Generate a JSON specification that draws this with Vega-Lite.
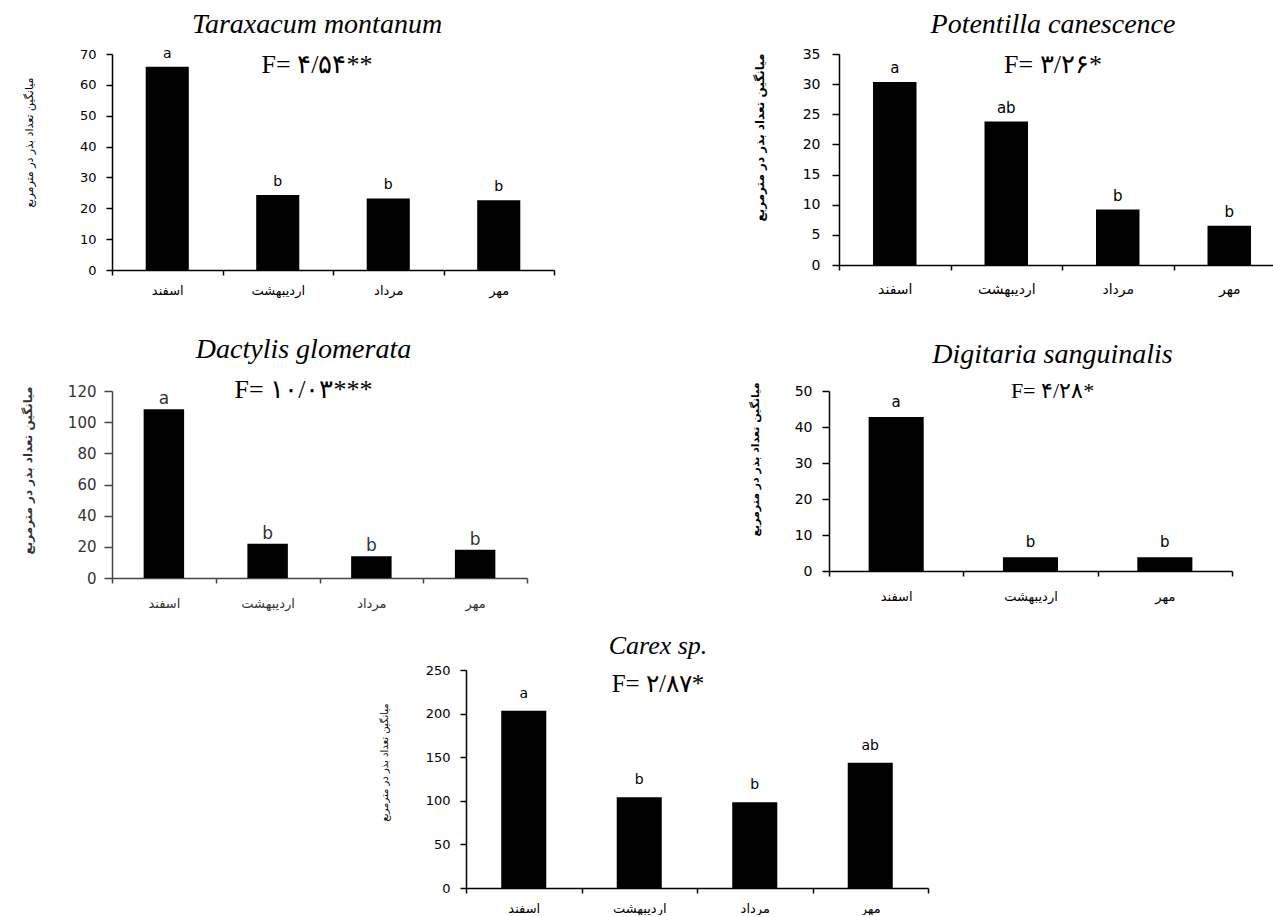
{
  "$schema": "https://vega.github.io/schema/vega-lite/v6.json",
  "background": "white",
  "padding": {"left": 21, "top": 10, "right": 0, "bottom": 0},
  "config": {
    "view": {"stroke": null},
    "axis": {"domainColor": "black", "domainWidth": 1.5, "tickColor": "black", "tickWidth": 1.5, "labelColor": "black", "titleColor": "black", "grid": false, "labelFont": "DejaVu Sans", "titleFont": "DejaVu Sans"},
    "title": {"font": "Liberation Serif", "fontSize": 28, "fontStyle": "italic", "fontWeight": "normal", "color": "black", "anchor": "middle", "frame": "group", "subtitleFont": "Liberation Serif", "subtitleFontSize": 26, "subtitleFontWeight": 200, "subtitleColor": "black", "subtitlePadding": 13}
  },
  "datasets": {
    "seed": [
      {"species": "Taraxacum montanum", "month": "اسفند", "value": 65.9, "letter": "a"},
      {"species": "Taraxacum montanum", "month": "اردیبهشت", "value": 24.3, "letter": "b"},
      {"species": "Taraxacum montanum", "month": "مرداد", "value": 23.2, "letter": "b"},
      {"species": "Taraxacum montanum", "month": "مهر", "value": 22.6, "letter": "b"},
      {"species": "Potentilla canescence", "month": "اسفند", "value": 30.35, "letter": "a"},
      {"species": "Potentilla canescence", "month": "اردیبهشت", "value": 23.8, "letter": "ab"},
      {"species": "Potentilla canescence", "month": "مرداد", "value": 9.2, "letter": "b"},
      {"species": "Potentilla canescence", "month": "مهر", "value": 6.5, "letter": "b"},
      {"species": "Dactylis glomerata", "month": "اسفند", "value": 108.3, "letter": "a"},
      {"species": "Dactylis glomerata", "month": "اردیبهشت", "value": 22.0, "letter": "b"},
      {"species": "Dactylis glomerata", "month": "مرداد", "value": 13.9, "letter": "b"},
      {"species": "Dactylis glomerata", "month": "مهر", "value": 18.1, "letter": "b"},
      {"species": "Digitaria sanguinalis", "month": "اسفند", "value": 42.8, "letter": "a"},
      {"species": "Digitaria sanguinalis", "month": "اردیبهشت", "value": 3.8, "letter": "b"},
      {"species": "Digitaria sanguinalis", "month": "مهر", "value": 3.8, "letter": "b"},
      {"species": "Carex sp.", "month": "اسفند", "value": 203.3, "letter": "a"},
      {"species": "Carex sp.", "month": "اردیبهشت", "value": 104.1, "letter": "b"},
      {"species": "Carex sp.", "month": "مرداد", "value": 98.4, "letter": "b"},
      {"species": "Carex sp.", "month": "مهر", "value": 143.5, "letter": "ab"}
    ]
  },
  "spacing": 23,
  "vconcat": [
    {
      "spacing": 39,
      "vconcat": [
        {
          "spacing": 198,
          "hconcat": [
            {
              "width": 442, "height": 216,
              "title": {"text": "Taraxacum montanum", "subtitle": "F= ۴/۵۴**", "dx": -16, "offset": -31},
              "data": {"name": "seed"},
              "transform": [{"filter": "datum.species === 'Taraxacum montanum'"}],
              "encoding": {
                "x": {"field": "month", "type": "nominal", "sort": ["اسفند", "اردیبهشت", "مرداد", "مهر"], "scale": {"paddingInner": 0, "paddingOuter": 0}, "axis": {"title": null, "labelAngle": 0, "tickBand": "extent", "tickSize": 5, "labelPadding": 9, "labelFontSize": 13}},
                "y": {"field": "value", "type": "quantitative", "scale": {"domain": [0, 70], "nice": false}, "axis": {"title": "میانگین تعداد بذر در مترمربع", "values": [0, 10, 20, 30, 40, 50, 60, 70], "tickSize": 6, "labelPadding": 10, "labelFontSize": 13, "titleFontSize": 11, "titleFontWeight": "normal", "titlePadding": 45, "titleY": 88}}
              },
              "layer": [
                {"mark": {"type": "bar", "color": "black", "width": {"band": 0.39}}},
                {"mark": {"type": "text", "baseline": "bottom", "dy": -6, "font": "DejaVu Sans", "fontSize": 14, "color": "black"}, "encoding": {"text": {"field": "letter"}}}
              ]
            },
            {
              "width": 446, "height": 211,
              "title": {"text": "Potentilla canescence", "subtitle": "F= ۳/۲۶*", "dx": -9, "offset": -31},
              "data": {"name": "seed"},
              "transform": [{"filter": "datum.species === 'Potentilla canescence'"}],
              "encoding": {
                "x": {"field": "month", "type": "nominal", "sort": ["اسفند", "اردیبهشت", "مرداد", "مهر"], "scale": {"paddingInner": 0, "paddingOuter": 0}, "axis": {"title": null, "labelAngle": 0, "tickBand": "extent", "tickSize": 5, "labelPadding": 12, "labelFontSize": 14}},
                "y": {"field": "value", "type": "quantitative", "scale": {"domain": [0, 35], "nice": false}, "axis": {"title": "میانگین تعداد بذر در مترمربع", "values": [0, 5, 10, 15, 20, 25, 30, 35], "tickSize": 7, "labelPadding": 12, "labelFontSize": 14, "titleFontSize": 12, "titleFontWeight": "bold", "titlePadding": 36, "titleY": 83}}
              },
              "layer": [
                {"mark": {"type": "bar", "color": "black", "width": {"band": 0.39}}},
                {"mark": {"type": "text", "baseline": "bottom", "dy": -6, "font": "DejaVu Sans", "fontSize": 15, "color": "black"}, "encoding": {"text": {"field": "letter"}}}
              ]
            }
          ]
        },
        {
          "spacing": 221,
          "hconcat": [
            {
              "width": 415, "height": 187,
              "title": {"text": "Dactylis glomerata", "subtitle": "F= ۱۰/۰۳***", "dx": -16, "offset": -19},
              "data": {"name": "seed"},
              "transform": [{"filter": "datum.species === 'Dactylis glomerata'"}],
              "encoding": {
                "x": {"field": "month", "type": "nominal", "sort": ["اسفند", "اردیبهشت", "مرداد", "مهر"], "scale": {"paddingInner": 0, "paddingOuter": 0}, "axis": {"title": null, "labelAngle": 0, "tickBand": "extent", "tickSize": 5, "labelPadding": 14, "labelFontSize": 13, "labelColor": "#333", "domainColor": "#444", "tickColor": "#444"}},
                "y": {"field": "value", "type": "quantitative", "scale": {"domain": [0, 120], "nice": false}, "axis": {"title": "میانگین تعداد بذر در مترمربع", "values": [0, 20, 40, 60, 80, 100, 120], "tickSize": 8, "labelPadding": 8, "labelFontSize": 15, "labelColor": "#333", "domainColor": "#444", "tickColor": "#444", "titleFontSize": 12, "titleFontWeight": "bold", "titleColor": "#333", "titlePadding": 33, "titleY": 79}}
              },
              "layer": [
                {"mark": {"type": "bar", "color": "black", "width": {"band": 0.39}}},
                {"mark": {"type": "text", "baseline": "bottom", "dy": -1, "font": "DejaVu Sans", "fontSize": 17, "color": "#333"}, "encoding": {"text": {"field": "letter"}}}
              ]
            },
            {
              "width": 403, "height": 180,
              "title": {"text": "Digitaria sanguinalis", "subtitle": "F= ۴/۲۸*", "dx": 22, "offset": -20, "subtitleFontSize": 22, "subtitlePadding": 12},
              "data": {"name": "seed"},
              "transform": [{"filter": "datum.species === 'Digitaria sanguinalis'"}],
              "encoding": {
                "x": {"field": "month", "type": "nominal", "sort": ["اسفند", "اردیبهشت", "مهر"], "scale": {"paddingInner": 0, "paddingOuter": 0}, "axis": {"title": null, "labelAngle": 0, "tickBand": "extent", "tickSize": 5, "labelPadding": 14, "labelFontSize": 13}},
                "y": {"field": "value", "type": "quantitative", "scale": {"domain": [0, 50], "nice": false}, "axis": {"title": "میانگین تعداد بذر در مترمربع", "values": [0, 10, 20, 30, 40, 50], "tickSize": 7, "labelPadding": 10, "labelFontSize": 14, "titleFontSize": 11, "titleFontWeight": "bold", "titlePadding": 34, "titleY": 68}}
              },
              "layer": [
                {"mark": {"type": "bar", "color": "black", "width": {"band": 0.41}}},
                {"mark": {"type": "text", "baseline": "bottom", "dy": -7, "font": "DejaVu Sans", "fontSize": 15, "color": "black"}, "encoding": {"text": {"field": "letter"}}}
              ]
            }
          ]
        }
      ]
    },
    {
      "spacing": 10,
      "hconcat": [
        {
          "width": 257, "height": 10,
          "data": {"values": []},
          "mark": "point",
          "encoding": {}
        },
        {
          "width": 462, "height": 218,
          "title": {"text": "Carex sp.", "subtitle": "F= ۲/۸۷*", "dx": -39, "offset": -33, "fontSize": 26, "subtitleFontSize": 25},
          "data": {"name": "seed"},
          "transform": [{"filter": "datum.species === 'Carex sp.'"}],
          "encoding": {
            "x": {"field": "month", "type": "nominal", "sort": ["اسفند", "اردیبهشت", "مرداد", "مهر"], "scale": {"paddingInner": 0, "paddingOuter": 0}, "axis": {"title": null, "labelAngle": 0, "tickBand": "extent", "tickSize": 5, "labelPadding": 9, "labelFontSize": 13}},
            "y": {"field": "value", "type": "quantitative", "scale": {"domain": [0, 250], "nice": false}, "axis": {"title": "میانگین تعداد بذر در مترمربع", "values": [0, 50, 100, 150, 200, 250], "tickSize": 6, "labelPadding": 10, "labelFontSize": 13, "titleFontSize": 10, "titleFontWeight": "normal", "titlePadding": 36, "titleY": 92}}
          },
          "layer": [
            {"mark": {"type": "bar", "color": "black", "width": {"band": 0.39}}},
            {"mark": {"type": "text", "baseline": "bottom", "dy": -10, "font": "DejaVu Sans", "fontSize": 14, "color": "black"}, "encoding": {"text": {"field": "letter"}}}
          ]
        }
      ]
    }
  ]
}
